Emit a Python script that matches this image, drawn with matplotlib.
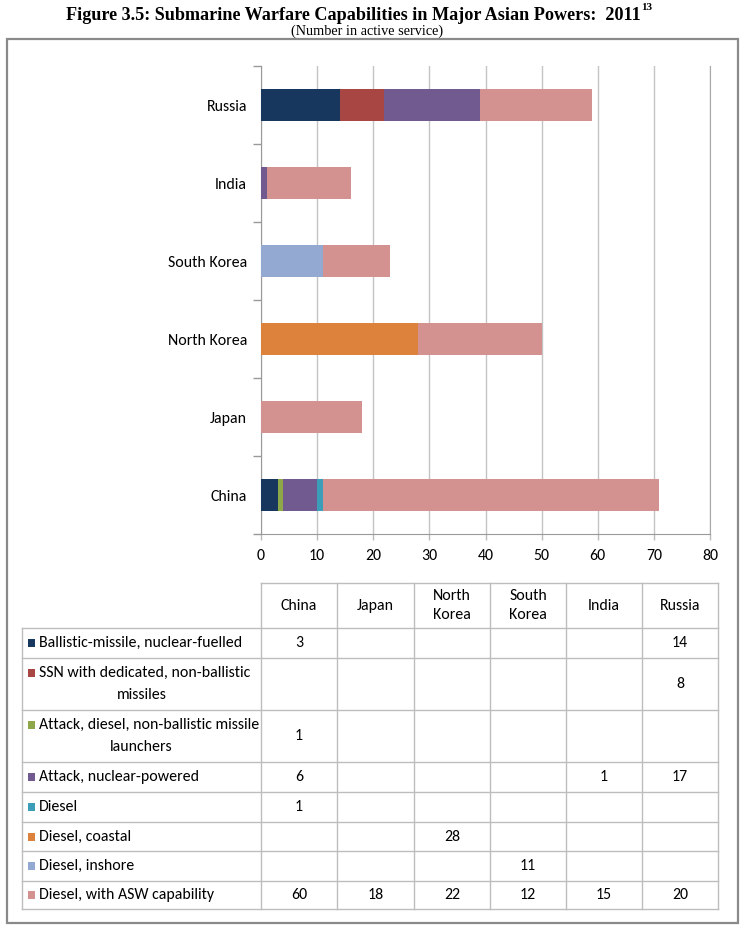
import matplotlib
matplotlib.use("Agg")
import matplotlib.pyplot as plt
from matplotlib.patches import Rectangle
from matplotlib import font_manager as fm
import numpy as np

# ---------------- data ----------------
countries = ["China", "Japan", "North Korea", "South Korea", "India", "Russia"]
header_labels = ["China", "Japan", "North\nKorea", "South\nKorea", "India", "Russia"]

series_names = [
    "Ballistic-missile, nuclear-fuelled",
    "SSN with dedicated, non-ballistic\nmissiles",
    "Attack, diesel, non-ballistic missile\nlaunchers",
    "Attack, nuclear-powered",
    "Diesel",
    "Diesel, coastal",
    "Diesel, inshore",
    "Diesel, with ASW capability",
]
ballistic = [3, None, None, None, None, 14]
ssn = [None, None, None, None, None, 8]
attack_diesel = [1, None, None, None, None, None]
attack_nuclear = [6, None, None, None, 1, 17]
diesel = [1, None, None, None, None, None]
diesel_coastal = [None, None, 28, None, None, None]
diesel_inshore = [None, None, None, 11, None, None]
diesel_asw = [60, 18, 22, 12, 15, 20]
series_values = [ballistic, ssn, attack_diesel, attack_nuclear, diesel,
                 diesel_coastal, diesel_inshore, diesel_asw]
colors = ["#17375E", "#A84644", "#8EA849", "#715A90", "#3C9DB8",
          "#DC823D", "#93A9D1", "#D39190"]

xticks = [0, 10, 20, 30, 40, 50, 60, 70, 80]
title = "Figure 3.5: Submarine Warfare Capabilities in Major Asian Powers:  2011"
title_sup = "13"
subtitle = "(Number in active service)"

# ---------------- fonts ----------------
_avail = {f.name for f in fm.fontManager.ttflist}
if "Carlito" in _avail:
    SANS = dict(family="Carlito")
    scale = 1.0
elif "Liberation Sans Narrow" in _avail:
    SANS = dict(family="Liberation Sans Narrow")
    scale = 0.95
else:
    SANS = dict(family="DejaVu Sans", fontstretch="condensed")
    scale = 0.85
SERIF = dict(family=["Liberation Serif", "DejaVu Serif"])

# ---------------- figure ----------------
W, H = 750, 930
fig = plt.figure(figsize=(W / 100, H / 100), dpi=100)

ov = fig.add_axes([0, 0, 1, 1])
ov.set_xlim(0, W)
ov.set_ylim(H, 0)
ov.axis("off")

left, right, top, bottom = 261, 710, 66, 534
ax = fig.add_axes([left / W, 1 - bottom / H, (right - left) / W, (bottom - top) / H])
ax.set_zorder(2)
y = np.arange(len(countries))
cum = np.zeros(len(countries))
for vals, c in zip(series_values, colors):
    v = np.array([0 if x is None else x for x in vals], dtype=float)
    ax.barh(y, v, left=cum, height=0.4, color=c, edgecolor="none", zorder=3)
    cum += v

fs = 11.4 * scale
ax.set_xlim(0, 80)
ax.set_ylim(-0.5, len(countries) - 0.5)
ax.set_xticks(xticks)
ax.set_xticklabels([str(t) for t in xticks], fontsize=fs, **SANS)
ax.set_yticks(y)
ax.set_yticklabels(countries, fontsize=fs, **SANS)
ax.set_yticks(np.arange(-0.5, len(countries), 1), minor=True)
ax.tick_params(axis="y", which="major", length=0, pad=10)
ax.tick_params(axis="y", which="minor", length=6, color="#999999", width=1)
ax.tick_params(axis="x", which="major", length=4, color="#bbbbbb", width=1, pad=7)
ax.grid(axis="x", color="#c4c4c4", linewidth=1, zorder=0)
for s in ["left", "bottom"]:
    ax.spines[s].set_color("#999999")
ax.spines["right"].set_color("#a8a8a8")
ax.spines["top"].set_visible(False)
ax.patch.set_alpha(0)

# ---------------- title ----------------
ov.text(353, 15, title, fontweight="bold", fontsize=13.1,
        ha="center", va="center", **SERIF)
ov.text(641, 8, title_sup, fontweight="bold", fontsize=8,
        ha="left", va="center", **SERIF)
ov.text(W / 2 - 8, 31.5, subtitle, fontsize=10.3, ha="center", va="center", **SERIF)

ov.add_patch(Rectangle((7, 39), 731, 884, fill=False, edgecolor="#8a8a8a", lw=1.6))

# ---------------- table ----------------
col_edges = [261, 337, 414, 490, 566, 642, 718]
label_left = 22
row_edges = [583, 628, 658, 710, 762, 792, 822, 851, 881, 909]
lc = "#bdbdbd"

for xe in col_edges:
    ov.plot([xe, xe], [row_edges[0], row_edges[-1]], color=lc, lw=1)
ov.plot([col_edges[0], col_edges[-1]], [row_edges[0], row_edges[0]], color=lc, lw=1)
for ye in row_edges[1:]:
    ov.plot([label_left, col_edges[-1]], [ye, ye], color=lc, lw=1)
ov.plot([label_left, label_left], [row_edges[1], row_edges[-1]], color=lc, lw=1)

for j, lab in enumerate(header_labels):
    cx = (col_edges[j] + col_edges[j + 1]) / 2
    cy = (row_edges[0] + row_edges[1]) / 2
    ov.text(cx, cy, lab, fontsize=fs, ha="center", va="center",
            linespacing=1.4, **SANS)

for i, (name, vals, c) in enumerate(zip(series_names, series_values, colors)):
    y0, y1 = row_edges[i + 1], row_edges[i + 2]
    cy = (y0 + y1) / 2
    lines = name.split("\n")
    ly = [cy] if len(lines) == 1 else [cy - 11, cy + 11]
    ov.add_patch(Rectangle((28, ly[0] - 4), 7, 8, color=c, lw=0))
    ov.text(39, ly[0], lines[0], fontsize=fs, ha="left", va="center", **SANS)
    if len(lines) > 1:
        ov.text((label_left + col_edges[0]) / 2, ly[1], lines[1],
                fontsize=fs, ha="center", va="center", **SANS)
    for j, v in enumerate(vals):
        if v is None:
            continue
        cx = (col_edges[j] + col_edges[j + 1]) / 2
        ov.text(cx, cy, str(v), fontsize=fs, ha="center", va="center", **SANS)

fig.savefig("out.png", dpi=100)
